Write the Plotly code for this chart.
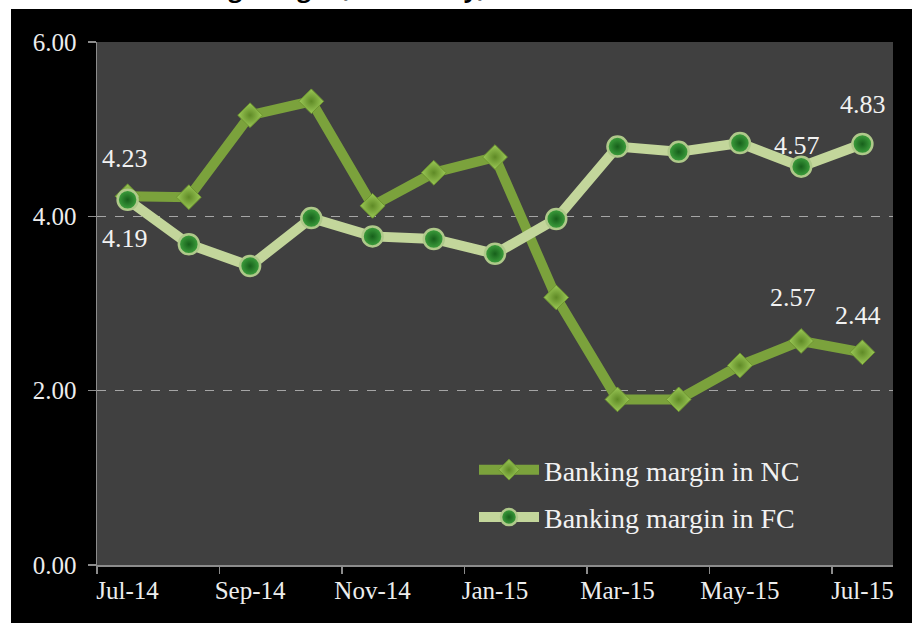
import plotly.graph_objects as go

# ---- data ----
months = ["Jul-14", "Aug-14", "Sep-14", "Oct-14", "Nov-14", "Dec-14", "Jan-15",
          "Feb-15", "Mar-15", "Apr-15", "May-15", "Jun-15", "Jul-15"]
margin_nc = [4.23, 4.22, 5.16, 5.32, 4.12, 4.50, 4.68, 3.07, 1.90, 1.90, 2.29, 2.57, 2.44]
margin_fc = [4.19, 3.68, 3.43, 3.98, 3.77, 3.74, 3.57, 3.97, 4.80, 4.74, 4.84, 4.57, 4.83]
y_tick_values = [0, 2, 4, 6]
labelled_nc = [0, 11, 12]
labelled_fc = [0, 11, 12]

# ---- layout constants ----
W, H = 912, 623
ML, MR, MT, MB = 97, 19, 42, 58
PW, PH = W - ML - MR, H - MT - MB
SERIF = "Liberation Serif, Times New Roman, Times, serif"

x_idx = list(range(len(months)))

def px_x(px):
    return (px - ML) / PW

def px_y(py):
    return (H - MB - py) / PH

fig = go.Figure()

fig.add_trace(go.Scatter(
    x=x_idx, y=margin_nc, name="Banking margin in NC", mode="lines+markers",
    legendgroup="nc",
    line=dict(color="#7BA23C", width=10),
    marker=dict(symbol="diamond", size=19, color="#9CC957",
                gradient=dict(type="radial", color="#5F8A26"),
                line=dict(color="#6E9630", width=1)),
))
fig.add_trace(go.Scatter(
    x=x_idx, y=margin_fc, name="Banking margin in FC", mode="lines+markers",
    legendgroup="fc",
    line=dict(color="#C3D69B", width=10),
    marker=dict(symbol="circle", size=20, color="#3FA33F",
                gradient=dict(type="radial", color="#17601B"),
                line=dict(color="#AFC98A", width=2.5)),
))

label_font = dict(family=SERIF, size=26, color="#F2F2F2")
nc_offsets = {0: (-3, 38), 11: (-8, 43), 12: (-4, 37)}
fc_offsets = {0: (-3, -39), 11: (-4, 21), 12: (1, 39)}
for i in labelled_nc:
    dx, dy = nc_offsets[i]
    fig.add_annotation(x=x_idx[i], y=margin_nc[i], text=f"{margin_nc[i]:.2f}",
                       showarrow=False, xshift=dx, yshift=dy, font=label_font)
for i in labelled_fc:
    dx, dy = fc_offsets[i]
    fig.add_annotation(x=x_idx[i], y=margin_fc[i], text=f"{margin_fc[i]:.2f}",
                       showarrow=False, xshift=dx, yshift=dy, font=label_font)

# cut-off title at the very top (only the descenders remain visible)
fig.add_annotation(xref="paper", yref="paper", x=px_x(488), y=px_y(6),
                   xanchor="right", yanchor="bottom", showarrow=False,
                   text="<b>Banking margin (% monthly)</b>",
                   font=dict(family="Open Sans", size=24, color="#000000"))

# white page strips (top and left)
fig.add_shape(type="rect", xref="paper", yref="paper", layer="above",
              x0=px_x(-5), x1=px_x(W + 5), y0=px_y(9), y1=px_y(-5),
              fillcolor="#FFFFFF", line=dict(width=0))
fig.add_shape(type="rect", xref="paper", yref="paper", layer="above",
              x0=px_x(-5), x1=px_x(11), y0=px_y(H + 5), y1=px_y(-5),
              fillcolor="#FFFFFF", line=dict(width=0))

tick_font = dict(family=SERIF, size=25, color="#EDEDED")

fig.update_layout(
    width=W, height=H,
    margin=dict(l=ML, r=MR, t=MT, b=MB, pad=0),
    paper_bgcolor="#000000",
    plot_bgcolor="#404040",
    showlegend=True,
    legend=dict(x=px_x(474), y=px_y(445), xanchor="left", yanchor="top",
                bgcolor="rgba(0,0,0,0)", tracegroupgap=8,
                font=dict(family=SERIF, size=28, color="#F2F2F2"),
                itemwidth=60),
    xaxis=dict(
        range=[-0.5, len(months) - 0.5],
        tickmode="array", tickvals=x_idx[::2], ticktext=months[::2],
        ticks="", showgrid=False, zeroline=False,
        showline=True, linecolor="#8C8C8C", linewidth=1.5,
        tickfont=tick_font, ticklabelstandoff=2,
        minor=dict(tickmode="array", tickvals=[i - 0.5 for i in x_idx[::2]],
                   ticks="outside", ticklen=7, tickwidth=1.5, tickcolor="#8C8C8C",
                   showgrid=False),
        fixedrange=True,
    ),
    yaxis=dict(
        range=[0, 6],
        tickmode="array", tickvals=y_tick_values, tickformat=".2f",
        ticks="outside", ticklen=8, tickwidth=1.5, tickcolor="#8C8C8C",
        showgrid=True, gridcolor="#A6A6A6", gridwidth=1, griddash="dash",
        zeroline=False, showline=True, linecolor="#8C8C8C", linewidth=1.5,
        tickfont=tick_font, ticklabelstandoff=6,
        fixedrange=True,
    ),
)

fig.write_html("out.html",
               config={"displayModeBar": False, "staticPlot": True},
               post_script="document.body.style.margin='0';document.body.style.overflow='hidden';")
